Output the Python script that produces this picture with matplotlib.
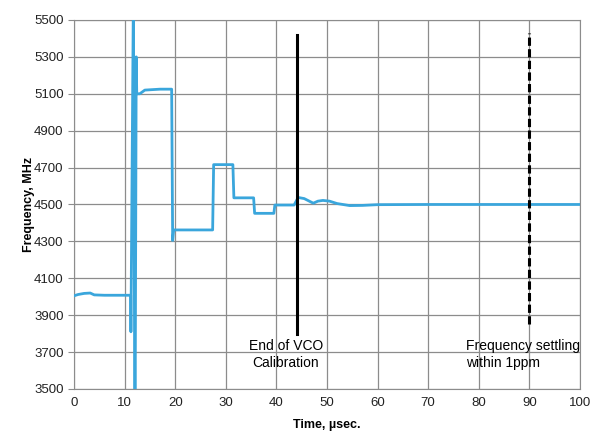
import matplotlib.pyplot as plt

# traced VCO frequency curve
time_us = [0, 0.8, 2, 3.2, 4, 6, 9, 11.2, 11.25, 11.3, 11.7, 11.75, 12.0, 12.1, 12.3, 12.4, 13, 14, 17, 19.3, 19.5,
           19.7, 27.4, 27.6, 31.4, 31.6, 35.5, 35.7, 39.5, 39.7, 43.5, 44.3, 45.5, 46.5, 47.3, 48.2, 49.2,
           50.5, 52, 54.5, 57, 60, 70, 80, 90, 100]
freq_mhz = [4005, 4012, 4018, 4020, 4010, 4008, 4008, 4008, 3810, 4008, 5500, 5500, 3500, 3500, 5300, 5100, 5100, 5120, 5125, 5125, 4305,
            4362, 4362, 4716, 4716, 4536, 4536, 4452, 4452, 4497, 4497, 4538, 4532, 4518, 4507, 4518, 4522,
            4518, 4505, 4494, 4495, 4499, 4500, 4500, 4500, 4500]

vco_cal_end = 44
settle_time = 90

plt.rcParams['font.family'] = ['Liberation Sans', 'DejaVu Sans']

fig = plt.figure(figsize=(5.93, 4.47), dpi=100)
ax = fig.add_axes([0.1248, 0.1298, 0.8532, 0.8255])

ax.plot(time_us, freq_mhz, color='#3aa6dc', linewidth=2, zorder=3)
ax.plot([vco_cal_end, vco_cal_end], [3800, 5420], color='black', linewidth=2.2, zorder=4)
ax.plot([settle_time, settle_time], [3850, 5430], color='black', linewidth=2.2,
        linestyle=(0, (2.7, 1.1)), zorder=4)

ax.text(41.9, 3770, 'End of VCO\nCalibration', ha='center', va='top', fontsize=10, linespacing=1.3)
ax.text(77.5, 3770, 'Frequency settling\nwithin 1ppm', ha='left', va='top', fontsize=10, linespacing=1.3)

ax.set_xlim(0, 100)
ax.set_ylim(3500, 5500)
ax.set_xticks(range(0, 101, 10))
ax.set_yticks(range(3500, 5501, 200))
ax.grid(True, color='#8c8c8c', linewidth=0.9)
ax.set_axisbelow(True)
for s in ax.spines.values():
    s.set_color('#8c8c8c')
ax.tick_params(colors='#8c8c8c', labelcolor='#222222', labelsize=9.5, length=4)
ax.tick_params(axis='x', length=0, pad=6)

ax.set_xlabel('Time, \u00b5sec.', fontsize=9, fontweight='bold', labelpad=7)
ax.set_ylabel('Frequency, MHz', fontsize=9, fontweight='bold', labelpad=-1)

plt.savefig('out.png', dpi=100)
